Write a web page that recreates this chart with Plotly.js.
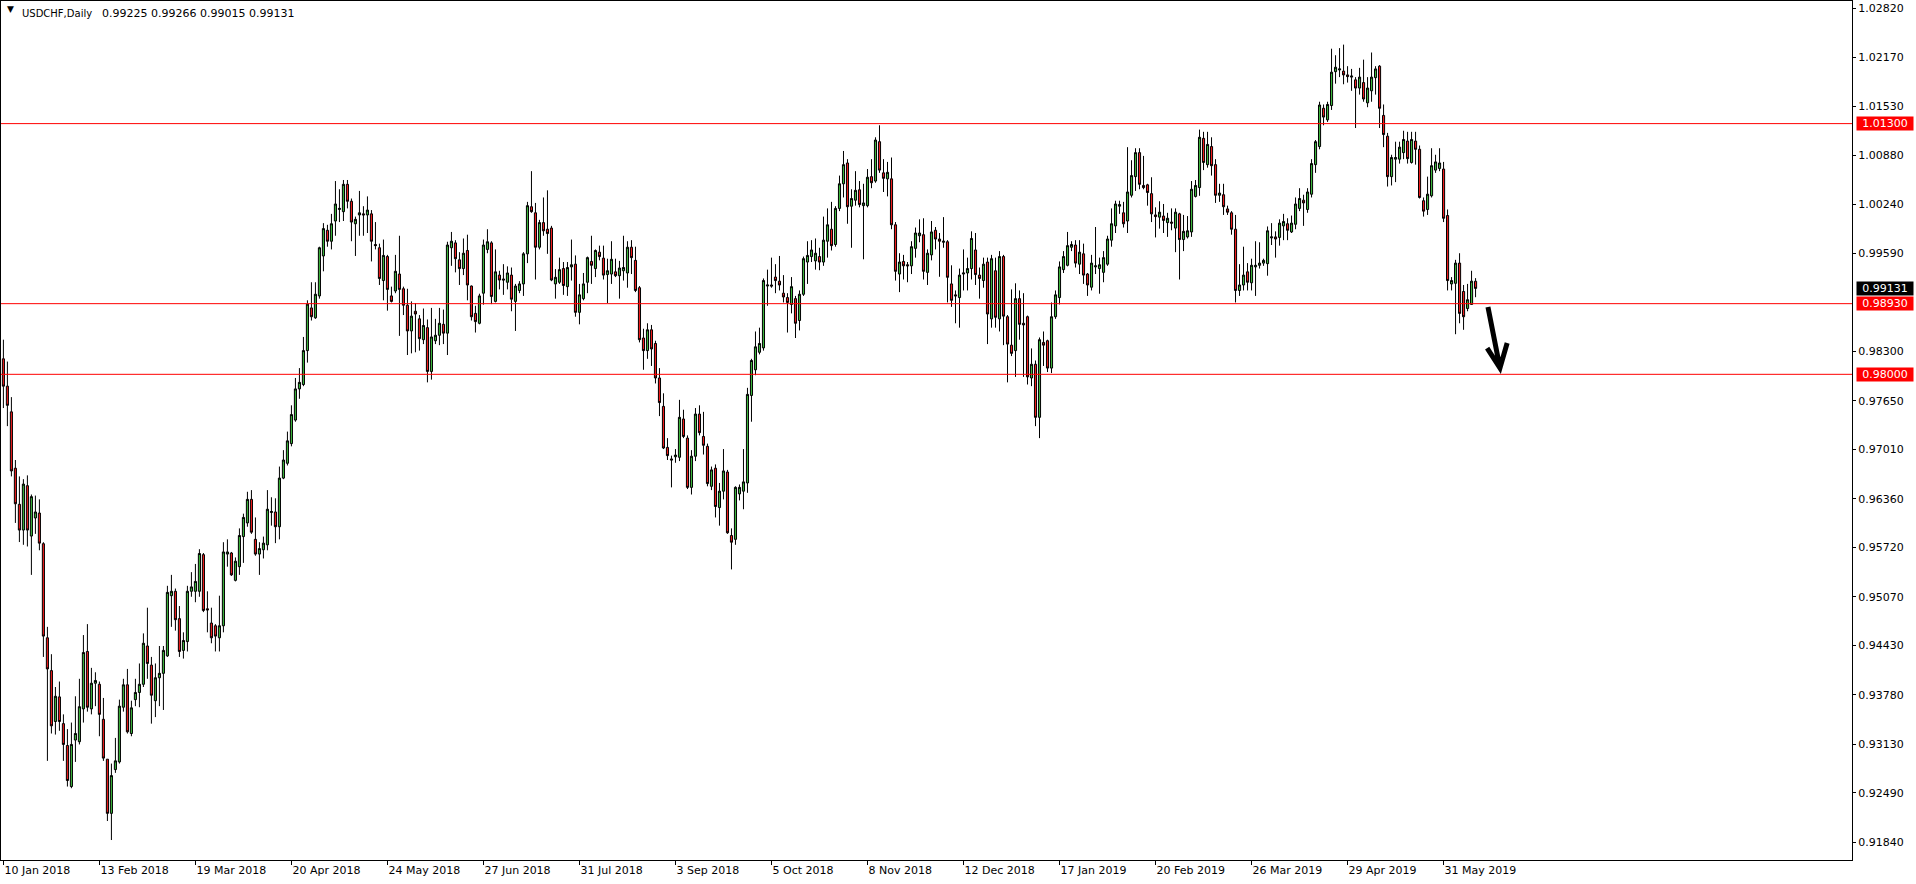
<!DOCTYPE html>
<html><head><meta charset="utf-8">
<script src="https://cdn.plot.ly/plotly-3.0.1.min.js"></script>
<style>html,body{margin:0;padding:0;background:#fff;overflow:hidden}#chart{width:1916px;height:884px}</style>
</head><body><div id="chart"></div>
<script>
// USDCHF Daily, bar 0 = 10 Jan 2018
const openP = [
0.98204,0.97844,0.97506,0.96764,0.96289,0.95950,0.96534,0.95871,0.96109,0.96174,
0.95770,0.94532,0.94100,0.93430,0.93754,0.93402,0.93114,0.92574,0.93186,0.93164,
0.93596,0.94352,0.93596,0.93934,0.93920,0.93459,0.92934,0.92221,0.92797,0.92898,
0.93618,0.93913,0.93272,0.93718,0.93812,0.93920,0.94424,0.94172,0.93704,0.94006,
0.94064,0.94294,0.95086,0.95144,0.94784,0.94366,0.94482,0.95144,0.95144,0.95144,
0.95626,0.94914,0.94726,0.94690,0.94532,0.94690,0.95634,0.95648,0.95288,0.95468,
0.95864,0.96044,0.96354,0.95828,0.95634,0.95691,0.95756,0.96181,0.96188,0.95994,
0.96634,0.96829,0.97088,0.97398,0.97808,0.97866,0.98312,0.98874,0.98744,0.99032,
0.99558,0.99896,0.99752,1.00018,1.00170,1.00141,1.00501,1.00278,0.99982,1.00098,
1.00112,1.00098,1.00112,0.99709,0.99666,0.99234,0.99550,0.99032,0.99097,0.99320,
0.99126,0.98910,0.98571,0.98830,0.98730,0.98456,0.98614,0.98038,0.98442,0.98514,
0.98658,0.98542,0.99666,0.99730,0.99507,0.99392,0.99630,0.99162,0.98802,0.98672,
0.99068,0.99644,0.99730,0.98960,0.99306,0.99255,0.99212,0.99306,0.98960,0.99104,
0.99190,0.99586,1.00206,1.00126,0.99673,0.99997,0.99910,0.99925,0.99190,0.99212,
0.99392,0.99154,0.99414,0.99450,0.98816,0.98996,0.99212,0.99486,0.99392,0.99608,
0.99529,0.99313,0.99320,0.99349,0.99298,0.99363,0.99334,0.99673,0.99500,0.99140,
0.98478,0.98312,0.98586,0.98406,0.97952,0.97578,0.97038,0.96886,0.96915,0.96908,
0.97412,0.97160,0.96512,0.96922,0.97477,0.97182,0.97052,0.96526,0.96764,0.96246,
0.96462,0.96714,0.95878,0.95828,0.96426,0.96462,0.96570,0.97722,0.98060,0.98290,
0.98348,0.99162,0.99176,0.99280,0.99226,0.99068,0.99010,0.98920,0.98996,0.98708,
0.99054,0.99478,0.99550,0.99493,0.99550,0.99478,0.99752,0.99910,0.99709,1.00184,
1.00508,1.00782,1.00213,1.00292,1.00429,1.00220,1.00220,1.00602,1.00544,1.01062,
1.00652,1.00573,1.00573,0.99968,0.99320,0.99486,0.99442,0.99428,0.99658,0.99824,
0.99838,0.99342,0.99572,0.99896,0.99781,0.99738,0.99745,0.99190,0.99046,0.99010,
0.99320,0.99334,0.99392,0.99637,0.99306,0.99234,0.99478,0.98730,0.99363,0.98730,
0.99550,0.98758,0.98384,0.98312,0.98996,0.98672,0.98758,0.97952,0.98132,0.97434,
0.98420,0.98442,0.98082,0.98758,0.99010,0.99378,0.99435,0.99673,0.99702,0.99450,
0.99586,0.99320,0.99147,0.99414,0.99392,0.99342,0.99450,0.99766,0.99954,1.00213,
1.00126,1.00018,1.00357,1.00602,1.00918,1.00486,1.00494,1.00378,1.00098,1.00069,
1.00083,0.99997,1.00004,0.99925,1.00112,0.99774,0.99809,0.99874,1.00342,1.00458,
1.01106,1.00760,1.00998,1.00760,1.00357,1.00364,1.00177,1.00126,0.99910,0.99104,
0.99176,0.99349,0.99205,0.99414,0.99435,0.99464,0.99457,0.99795,0.99809,0.99802,
0.99954,0.99982,0.99874,0.99975,1.00184,1.00292,1.00170,1.00371,1.00760,1.00998,
1.01502,1.01350,1.01538,1.01984,1.02006,1.01991,1.01941,1.01912,1.01876,1.01768,
1.01840,1.01574,1.01732,1.01905,1.02056,1.01408,1.01134,1.00602,1.00832,1.00832,
1.00918,1.01070,1.00789,1.01070,1.00962,1.00285,1.00170,1.00350,1.00688,1.00710,
1.00702,1.00090,0.99190,0.99198,0.99464,0.99090,0.98866,0.98920,0.99225];

const highP = [
0.98456,0.98168,0.97700,0.96872,0.96656,0.96620,0.96670,0.96418,0.96404,0.96354,
0.95790,0.94676,0.94316,0.93884,0.93956,0.93524,0.93330,0.93416,0.93762,0.93992,
0.94568,0.94712,0.94136,0.94078,0.93956,0.93740,0.92934,0.92876,0.93214,0.93718,
0.93992,0.94122,0.93704,0.93992,0.94194,0.94590,0.94928,0.94280,0.94194,0.94424,
0.94424,0.95216,0.95360,0.95180,0.94950,0.94604,0.95216,0.95396,0.95504,0.95698,
0.95648,0.95144,0.94928,0.94712,0.95086,0.95790,0.95828,0.95662,0.95590,0.95972,
0.96166,0.96454,0.96476,0.96116,0.95790,0.95864,0.96476,0.96382,0.96368,0.96786,
0.97002,0.97246,0.97592,0.97952,0.98082,0.98492,0.98974,0.99212,0.99212,0.99680,
0.99990,0.99968,1.00112,1.00544,1.00436,1.00558,1.00558,1.00314,1.00076,1.00414,
1.00213,1.00342,1.00162,1.00004,0.99720,0.99774,0.99572,0.99154,0.99572,0.99824,
0.99154,0.99126,0.98960,0.98938,0.98780,0.98866,0.98722,0.98874,0.98730,0.98874,
0.98852,0.99745,0.99874,0.99766,0.99608,0.99788,0.99838,0.99169,0.98902,0.99061,
0.99774,0.99910,0.99752,0.99644,0.99363,0.99450,0.99421,0.99406,0.99190,0.99226,
0.99608,1.00270,1.00674,1.00256,1.00033,1.00328,1.00422,0.99954,0.99385,0.99536,
0.99478,0.99478,0.99774,0.99565,0.99190,0.99334,0.99550,0.99824,0.99644,0.99694,
0.99694,0.99522,0.99752,0.99522,0.99493,0.99824,0.99752,0.99766,0.99680,0.99162,
0.98600,0.98672,0.98650,0.98442,0.98082,0.97750,0.97160,0.96930,0.97016,0.97664,
0.97534,0.97196,0.97002,0.97556,0.97592,0.97506,0.97088,0.96786,0.96814,0.96570,
0.97016,0.96742,0.95972,0.96526,0.96550,0.97016,0.97822,0.98204,0.98564,0.98614,
0.99262,0.99378,0.99536,0.99450,0.99558,0.99306,0.99068,0.99280,0.99032,0.99104,
0.99550,0.99752,0.99766,0.99788,0.99666,1.00076,1.00184,1.00270,1.00213,1.00616,
1.00940,1.00832,1.00436,1.00674,1.00544,1.00508,1.00702,1.00832,1.01120,1.01278,
1.00832,1.00796,1.00854,1.00004,0.99594,0.99572,0.99478,0.99752,0.99932,1.00040,
1.00054,0.99644,1.00018,0.99939,0.99860,1.00069,0.99766,0.99435,0.99104,0.99392,
0.99644,0.99536,0.99882,0.99860,0.99406,0.99536,0.99536,0.99572,0.99536,0.99622,
0.99572,0.98780,0.99118,0.99198,0.99104,0.99068,0.98773,0.98341,0.98182,0.98485,
0.98564,0.98456,0.98946,0.99104,0.99486,0.99622,0.99874,0.99752,0.99766,0.99766,
0.99720,0.99334,0.99572,0.99939,0.99536,0.99622,0.99824,1.00184,1.00285,1.00285,
1.00270,1.00990,1.00818,1.00976,1.00976,1.00875,1.00508,1.00594,1.00198,1.00278,
1.00242,1.00126,1.00184,1.00184,1.00126,1.00098,1.00083,1.00544,1.00558,1.01221,
1.01192,1.01192,1.01120,1.00832,1.00508,1.00508,1.00220,1.00148,1.00098,0.99450,
0.99680,0.99464,0.99522,0.99752,0.99738,0.99522,0.99946,0.99990,0.99882,1.00040,
1.00112,1.00054,1.00090,1.00328,1.00450,1.00364,1.00450,1.00832,1.01084,1.01588,
1.01552,1.01588,1.02286,1.02200,1.02294,1.02340,1.02056,1.02020,1.01912,1.02034,
1.02142,1.01912,1.02236,1.02056,1.02070,1.01552,1.01178,1.00890,1.01062,1.01062,
1.01206,1.01192,1.01192,1.01192,1.01012,1.00328,1.00602,1.00976,1.00890,1.00976,
1.00796,1.00170,0.99280,0.99507,0.99594,0.99176,0.99190,0.99363,0.99266];

const lowP = [
0.97556,0.97318,0.96656,0.96044,0.95792,0.95756,0.95734,0.95360,0.95900,0.95684,
0.94280,0.92912,0.93272,0.93258,0.93308,0.92912,0.92574,0.92552,0.92898,0.93128,
0.93416,0.93560,0.93524,0.93632,0.93236,0.92912,0.92120,0.91870,0.92754,0.92876,
0.93560,0.93272,0.93236,0.93632,0.93618,0.93884,0.93992,0.93402,0.93488,0.93632,
0.93582,0.94280,0.94676,0.94626,0.94280,0.94258,0.94352,0.95072,0.95000,0.95072,
0.94870,0.94604,0.94460,0.94352,0.94352,0.94604,0.95468,0.95346,0.95274,0.95360,
0.95518,0.95994,0.95900,0.95612,0.95360,0.95576,0.95684,0.96008,0.95778,0.95828,
0.96620,0.96800,0.97052,0.97376,0.97678,0.97844,0.98154,0.98708,0.98730,0.98996,
0.99356,0.99680,0.99644,0.99824,1.00004,1.00018,1.00184,0.99752,0.99558,0.99824,
0.99824,0.99860,0.99486,0.99644,0.99176,0.98974,0.98838,0.98946,0.99068,0.98506,
0.98780,0.98254,0.98276,0.98290,0.98312,0.98398,0.97894,0.97930,0.98398,0.98384,
0.98398,0.98254,0.99428,0.99342,0.99176,0.99306,0.98974,0.98708,0.98550,0.98658,
0.98917,0.99594,0.98924,0.98946,0.99118,0.99046,0.99118,0.98830,0.98571,0.99068,
0.99032,0.99464,1.00126,0.99248,0.99644,0.99824,0.99586,0.99226,0.98996,0.99190,
0.99046,0.99032,0.99234,0.98758,0.98658,0.98974,0.99068,0.99190,0.99280,0.99500,
0.99248,0.98938,0.99190,0.99280,0.98996,0.99234,0.99140,0.99320,0.99082,0.98420,
0.98060,0.98204,0.98110,0.97880,0.97450,0.97016,0.96872,0.96512,0.96836,0.96858,
0.97160,0.96490,0.96418,0.96858,0.97196,0.96944,0.96526,0.96476,0.96116,0.96008,
0.96354,0.95900,0.95432,0.95756,0.96340,0.96224,0.96440,0.97376,0.97988,0.98262,
0.98312,0.98902,0.99140,0.99068,0.99104,0.98946,0.98550,0.98802,0.98478,0.98578,
0.99032,0.99190,0.99478,0.99378,0.99370,0.99428,0.99536,0.99630,0.99680,1.00148,
1.00328,0.99982,0.99666,1.00220,1.00198,0.99514,1.00198,1.00450,1.00522,1.00652,
1.00400,1.00342,0.99910,0.99234,0.99082,0.99248,0.99212,0.99320,0.99536,0.99738,
0.99248,0.99176,0.99500,0.99644,0.99284,0.99666,0.98946,0.98888,0.98672,0.98614,
0.99104,0.99104,0.99248,0.99176,0.98996,0.99140,0.98398,0.98614,0.98614,0.98564,
0.98384,0.97894,0.98240,0.97966,0.98456,0.97966,0.97866,0.97844,0.97318,0.97160,
0.98110,0.98030,0.98016,0.98730,0.98920,0.99334,0.99421,0.99622,0.99406,0.99320,
0.99190,0.99032,0.99104,0.99320,0.99061,0.99212,0.99428,0.99680,0.99860,1.00112,
0.99932,0.99860,1.00328,1.00414,1.00436,1.00436,1.00220,1.00004,0.99802,0.99918,
0.99860,0.99809,0.99896,0.99608,0.99248,0.99622,0.99788,0.99809,1.00328,1.00350,
1.00688,1.00720,1.00616,1.00256,1.00270,1.00098,1.00098,0.99838,0.98946,0.99032,
0.99104,0.99104,0.99104,0.99032,0.99392,0.99428,0.99298,0.99702,0.99536,0.99694,
0.99766,0.99766,0.99860,0.99910,1.00148,0.99954,1.00126,1.00328,1.00652,1.00962,
1.01278,1.01322,1.01480,1.01826,1.01912,1.01818,1.01840,1.01732,1.01242,1.01682,
1.01588,1.01516,1.01588,1.01682,1.01242,1.00990,1.00472,1.00486,1.00530,1.00774,
1.00832,1.00774,1.00774,1.00760,1.00314,1.00076,1.00098,1.00328,1.00652,1.00674,
1.00004,0.99104,0.99104,0.98528,0.98672,0.98586,0.98830,0.98913,0.99015];

const closeP = [
0.97844,0.97592,0.96728,0.96296,0.95950,0.96555,0.95950,0.96390,0.96188,0.95778,
0.94554,0.94122,0.93373,0.93762,0.93430,0.93128,0.92653,0.93128,0.93272,0.93625,
0.94338,0.93618,0.93934,0.93970,0.93524,0.92948,0.92221,0.92718,0.92912,0.93632,
0.93913,0.93294,0.93610,0.93812,0.93920,0.94460,0.94194,0.93776,0.94006,0.94064,
0.94366,0.95130,0.95144,0.94770,0.94352,0.94496,0.95144,0.95202,0.95274,0.95641,
0.94892,0.94899,0.94532,0.94554,0.94690,0.95662,0.95662,0.95360,0.95540,0.95878,
0.96116,0.96354,0.95922,0.95634,0.95706,0.95778,0.96224,0.96195,0.95994,0.96634,
0.96872,0.97124,0.97470,0.97808,0.97894,0.98312,0.98924,0.98758,0.99054,0.99666,
0.99918,0.99752,0.99982,1.00242,1.00184,1.00501,1.00278,1.00004,1.00040,1.00126,
1.00098,1.00162,0.99752,0.99694,0.99262,0.99565,0.99118,0.98960,0.99356,0.99118,
0.98910,0.98571,0.98766,0.98794,0.98470,0.98643,0.98038,0.98492,0.98514,0.98672,
0.98542,0.99702,0.99752,0.99522,0.99392,0.99594,0.99176,0.98758,0.98694,0.99032,
0.99702,0.99745,0.99025,0.99349,0.99241,0.99241,0.99334,0.98989,0.99162,0.99190,
0.99586,1.00220,1.00141,0.99673,0.99997,0.99889,0.99853,0.99241,0.99277,0.99378,
0.99169,0.99406,0.99442,0.98816,0.99046,0.99190,0.99536,0.99435,0.99630,0.99550,
0.99306,0.99363,0.99514,0.99298,0.99399,0.99406,0.99673,0.99536,0.99104,0.98456,
0.98312,0.98586,0.98334,0.97952,0.97628,0.97030,0.96930,0.96872,0.96937,0.97434,
0.97182,0.96512,0.96922,0.97477,0.97232,0.97066,0.96562,0.96742,0.96260,0.96462,
0.96728,0.95914,0.95790,0.96512,0.96512,0.96584,0.97736,0.98182,0.98362,0.98406,
0.99234,0.99176,0.99162,0.99234,0.99176,0.99018,0.98946,0.99154,0.98672,0.99054,
0.99522,0.99565,0.99637,0.99594,0.99478,0.99766,0.99968,0.99694,1.00184,1.00508,
1.00760,1.00206,1.00314,1.00422,1.00234,1.00256,1.00594,1.00522,1.01084,1.00688,
1.00580,1.00659,0.99968,0.99356,0.99478,0.99428,0.99428,0.99680,0.99860,0.99860,
0.99356,0.99594,0.99874,0.99781,0.99752,0.99752,0.99277,0.98974,0.99032,0.99306,
0.99334,0.99392,0.99788,0.99313,0.99262,0.99450,0.98794,0.99522,0.98751,0.99550,
0.98766,0.98398,0.98276,0.98996,0.98658,0.98650,0.97966,0.98132,0.97434,0.98456,
0.98384,0.98082,0.98758,0.99046,0.99414,0.99550,0.99694,0.99709,0.99464,0.99608,
0.99306,0.99176,0.99464,0.99428,0.99442,0.99536,0.99781,0.99982,1.00242,1.00234,
0.99982,1.00400,1.00616,1.00918,1.00501,1.00458,1.00393,1.00112,1.00076,1.00134,
1.00026,1.00054,0.99990,1.00134,0.99774,0.99882,0.99889,1.00436,1.00486,1.01120,
1.00789,1.01026,1.00746,1.00357,1.00386,1.00206,1.00134,0.99910,0.99104,0.99176,
0.99306,0.99212,0.99435,0.99435,0.99464,0.99500,0.99889,0.99809,0.99781,0.99990,
1.00011,0.99896,0.99990,1.00242,1.00314,1.00256,1.00400,1.00774,1.01062,1.01545,
1.01386,1.01552,1.01977,1.02042,1.02020,1.01941,1.01919,1.01926,1.01768,1.01912,
1.01624,1.01768,1.01912,1.02020,1.01502,1.01156,1.00602,1.00854,1.00854,1.00990,
1.01091,1.00839,1.01091,1.00962,1.00328,1.00148,1.00371,1.00746,1.00796,1.00782,
1.00054,0.99234,0.99234,0.99464,0.98802,0.98758,0.98982,0.99226,0.99131];

const dateTickBars = [0,24,48,72,96,120,144,168,192,216,240,264,288,312,336,360];
const dateTickLabels = ["10 Jan 2018","13 Feb 2018","19 Mar 2018","20 Apr 2018","24 May 2018","27 Jun 2018","31 Jul 2018","3 Sep 2018","5 Oct 2018","8 Nov 2018","12 Dec 2018","17 Jan 2019","20 Feb 2019","26 Mar 2019","29 Apr 2019","31 May 2019"];
const priceTicks = [1.0282,1.0217,1.0153,1.0088,1.0024,0.9959,0.9830,0.9765,0.9701,0.9636,0.9572,0.9507,0.9443,0.9378,0.9313,0.9249,0.9184];
const priceTickLabels = ["1.02820","1.02170","1.01530","1.00880","1.00240","0.99590","0.98300","0.97650","0.97010","0.96360","0.95720","0.95070","0.94430","0.93780","0.93130","0.92490","0.91840"];
const levelPrices = [1.0130, 0.9893, 0.9800];
const levelLabels = ["1.01300", "0.98930", "0.98000"];
const lastPrice = 0.99131;
const lastPriceLabel = "0.99131";
const symbolLabel = "USDCHF,Daily";
const ohlcLabel = "0.99225 0.99266 0.99015 0.99131";

const barIdx = openP.map((_, i) => i);
const FONT = 'DejaVu Sans';

const trace = {
  type: 'candlestick', x: barIdx, open: openP, high: highP, low: lowP, close: closeP,
  increasing: {line: {color: '#000000', width: 1}, fillcolor: '#3cb43c'},
  decreasing: {line: {color: '#000000', width: 1}, fillcolor: '#ee1c1c'},
  whiskerwidth: 0, hoverinfo: 'skip', showlegend: false
};

const shapes = levelPrices.map(p => ({
  type: 'line', xref: 'paper', x0: 0, x1: 1, yref: 'y', y0: p, y1: p,
  line: {color: '#ff0000', width: 1}, layer: 'above'
}));
// hand-drawn arrow
shapes.push({
  type: 'path', xref: 'x', yref: 'y',
  path: 'M 371.1,0.98886 L 374.1,0.98083 M 370.9,0.98346 L 374.1,0.98083 L 375.9,0.98412',
  line: {color: '#000000', width: 5}
});

const annotations = levelPrices.map((p, i) => ({
  xref: 'paper', x: 1, xanchor: 'left', xshift: 4, yref: 'y', y: p, yanchor: 'middle',
  text: levelLabels[i], showarrow: false, bgcolor: '#ff0000', width: 54, height: 11, borderpad: 1,
  align: 'center', font: {family: FONT, size: 11, color: '#ffffff'}
}));
annotations.push({
  xref: 'paper', x: 1, xanchor: 'left', xshift: 4, yref: 'y', y: lastPrice, yanchor: 'middle',
  text: lastPriceLabel, showarrow: false, bgcolor: '#000000', width: 54, height: 11, borderpad: 1,
  align: 'center', font: {family: FONT, size: 11, color: '#ffffff'}
});
annotations.push({
  xref: 'paper', x: 0, xanchor: 'left', xshift: 4, yref: 'paper', y: 1, yanchor: 'middle', yshift: -8,
  text: '\u25BC', showarrow: false, font: {family: FONT, size: 9, color: '#000000'}
});
annotations.push({
  xref: 'paper', x: 0, xanchor: 'left', xshift: 19, yref: 'paper', y: 1, yanchor: 'middle', yshift: -12,
  text: symbolLabel, showarrow: false, font: {family: FONT, size: 10, color: '#000000'}
});
annotations.push({
  xref: 'paper', x: 0, xanchor: 'left', xshift: 99, yref: 'paper', y: 1, yanchor: 'middle', yshift: -12,
  text: ohlcLabel, showarrow: false, font: {family: FONT, size: 11, color: '#000000'}
});

const layout = {
  width: 1916, height: 884,
  margin: {l: 1, r: 64, t: 1, b: 24, pad: 0},
  paper_bgcolor: '#ffffff', plot_bgcolor: '#ffffff',
  showlegend: false, boxgap: 0.25,
  xaxis: {
    range: [-0.6, 462.1], tickmode: 'array', tickvals: dateTickBars, ticktext: dateTickLabels,
    ticks: 'outside', ticklen: 4, tickcolor: '#000000', tickwidth: 1,
    ticklabelposition: 'outside right',
    showgrid: false, zeroline: false, showline: true, linecolor: '#000000', linewidth: 1, mirror: true,
    rangeslider: {visible: false}, fixedrange: true,
    tickfont: {family: FONT, size: 11, color: '#000000'}
  },
  yaxis: {
    side: 'right', range: [0.91607, 1.02914], tickmode: 'array', tickvals: priceTicks, ticktext: priceTickLabels,
    ticks: 'outside', ticklen: 3, tickcolor: '#000000', tickwidth: 1,
    showgrid: false, zeroline: false, showline: true, linecolor: '#000000', linewidth: 1, mirror: true,
    fixedrange: true, tickfont: {family: FONT, size: 11, color: '#000000'}
  },
  shapes: shapes,
  annotations: annotations
};

Plotly.newPlot('chart', [trace], layout, {staticPlot: true, displayModeBar: false});
</script>
</body></html>
